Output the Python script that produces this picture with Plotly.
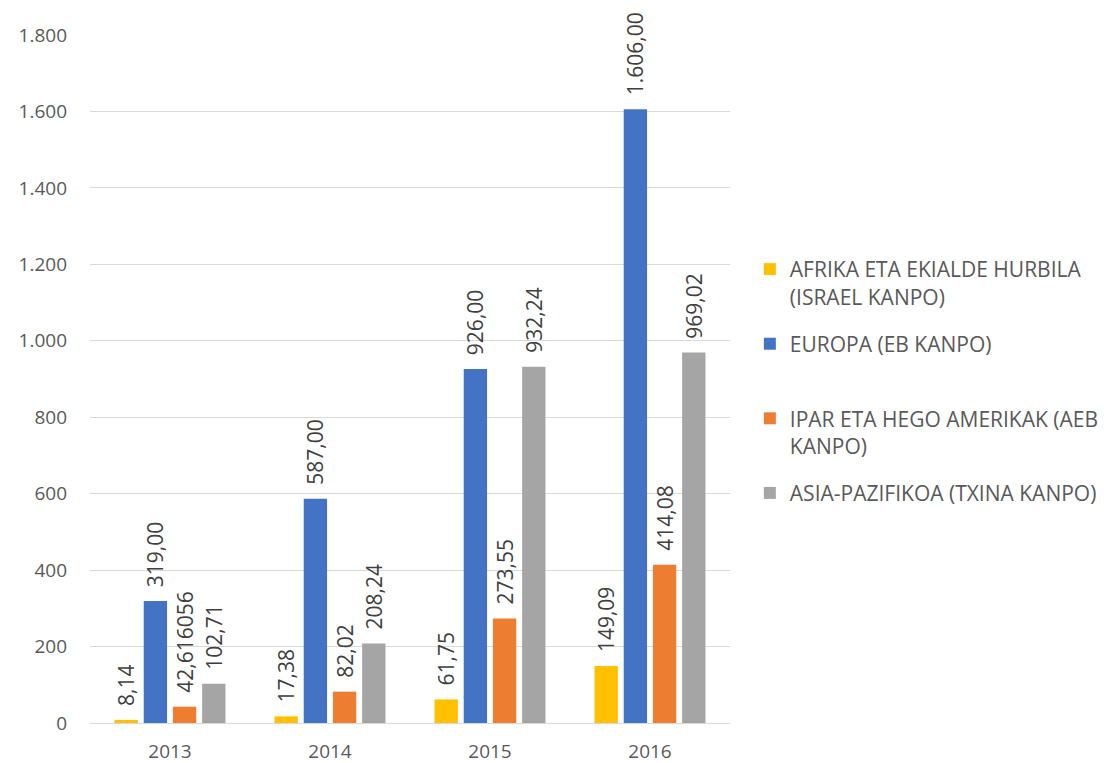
import plotly.graph_objects as go

# Categories and series
years = ["2013", "2014", "2015", "2016"]
afrika = [8.14, 17.38, 61.75, 149.09]
europa = [319.00, 587.00, 926.00, 1606.00]
amerika = [42.616056, 82.02, 273.55, 414.08]
asia = [102.71, 208.24, 932.24, 969.02]

series_names = [
    "AFRIKA ETA EKIALDE HURBILA<br>(ISRAEL KANPO)",
    "EUROPA (EB KANPO)<br> ",
    "IPAR ETA HEGO AMERIKAK (AEB<br>KANPO)",
    "ASIA-PAZIFIKOA (TXINA KANPO)<br> ",
]
series_values = [afrika, europa, amerika, asia]
series_colors = ["#FFC000", "#4472C4", "#ED7D31", "#A5A5A5"]

FONT = "Open Sans"
LABEL_PAD = "\u00a0\u00a0"  # small gap between bar end and its value label


def fmt(v):
    """Number label with decimal comma and thousands dot."""
    if round(v, 2) == v:
        s = f"{v:,.2f}"
    else:
        s = f"{v:,}"
    return s.replace(",", "X").replace(".", ",").replace("X", ".")


fig = go.Figure()
for i, (name, vals, col) in enumerate(zip(series_names, series_values, series_colors)):
    fig.add_trace(go.Bar(
        x=years, y=vals, name=name, legendgroup=f"g{i}",
        marker=dict(color=col, line=dict(width=0)),
        text=[LABEL_PAD + fmt(v) for v in vals],
        textposition="outside",
        textangle=-90,
        textfont=dict(family=FONT, size=21, color="#404040"),
        cliponaxis=False,
        constraintext="none",
        hoverinfo="skip",
    ))

fig.update_layout(
    width=1104, height=763,
    margin=dict(l=90, r=374, t=35, b=40, autoexpand=False),
    paper_bgcolor="white", plot_bgcolor="white",
    barmode="group", bargap=0.27, bargroupgap=0.2,
    separators=",.",
    font=dict(family=FONT, color="#595959"),
    showlegend=True,
    legend=dict(
        x=1.031, y=0.689, xanchor="left", yanchor="top",
        font=dict(family=FONT, size=21, color="#595959"),
        valign="top", itemwidth=30, tracegroupgap=17,
        bgcolor="rgba(0,0,0,0)",
    ),
    yaxis=dict(
        range=[0, 1800], dtick=200, tickformat=",d",
        showgrid=True, gridcolor="#D9D9D9", gridwidth=1,
        zeroline=True, zerolinecolor="#D9D9D9", zerolinewidth=1,
        showline=False, ticks="", automargin=False,
        ticklabelstandoff=22,
        tickfont=dict(family=FONT, size=19, color="#595959"),
    ),
    xaxis=dict(
        showgrid=False, showline=False, zeroline=False, automargin=False,
        ticks="outside", ticklen=11, tickcolor="rgba(0,0,0,0)",
        tickfont=dict(family=FONT, size=19, color="#595959"),
    ),
)

fig.write_html("out.html")
